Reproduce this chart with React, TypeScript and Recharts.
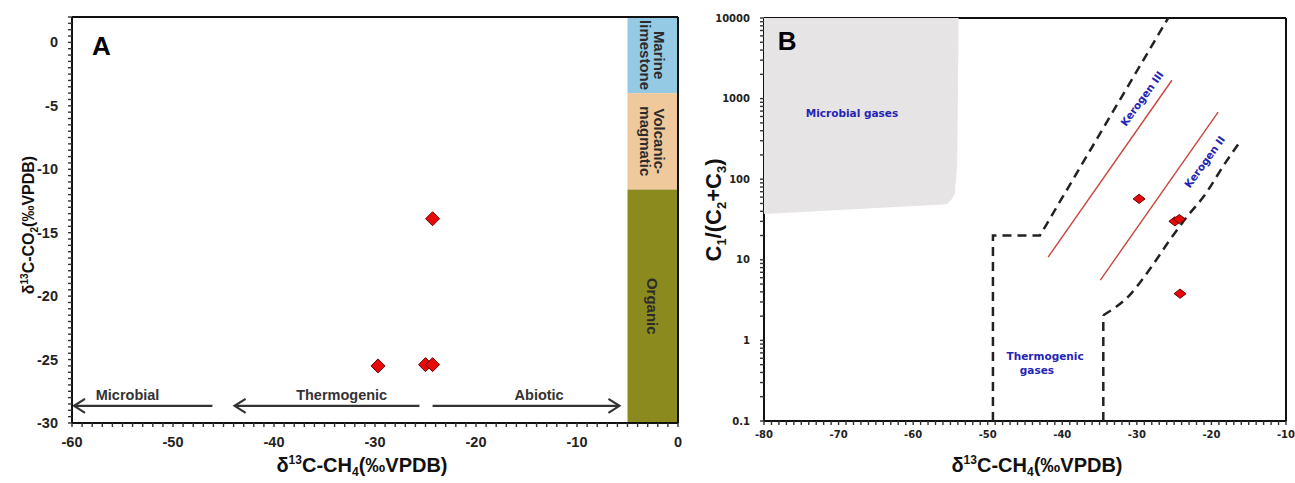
import React from "react";
import {
  ReferenceArea,
  ReferenceLine,
  Scatter,
  ScatterChart,
  XAxis,
  YAxis,
} from "recharts";

// ---------- panel A: d13C-CH4 vs d13C-CO2 ----------
const aPoints = [
  { x: -29.7, y: -25.5 },
  { x: -25.0, y: -25.4 },
  { x: -24.3, y: -25.4 },
  { x: -24.3, y: -13.9 },
];
const aXTicks = [-60, -50, -40, -30, -20, -10, 0];
const aYTicks = [-30, -25, -20, -15, -10, -5, 0];
const aBands = [
  { top: 2, bottom: -4, lines: ["Marine", "limestone"] },
  { top: -4, bottom: -11.6, lines: ["Volcanic-", "magmatic"] },
  { top: -11.6, bottom: -30, lines: ["Organic"] },
];
const aArrows = [
  { from: -46.1, to: -59.8, y: -28.65 },
  { from: -25.6, to: -43.9, y: -28.65 },
  { from: -24.3, to: -5.8, y: -28.65 },
];
const aLabels = [
  { x: -54.5, y: -27.75, text: "Microbial" },
  { x: -33.3, y: -27.75, text: "Thermogenic" },
  { x: -13.75, y: -27.75, text: "Abiotic" },
];
const aTag = [{ x: -57.1, y: -0.3, text: "A" }];

// ---------- panel B: d13C-CH4 vs C1/(C2+C3) ----------
const bPoints = [
  { x: -29.7, y: 57 },
  { x: -24.9, y: 30 },
  { x: -24.3, y: 32 },
  { x: -24.2, y: 3.8 },
];
const bXTicks = [-80, -70, -60, -50, -40, -30, -20, -10];
const bYTicks = [0.1, 1, 10, 100, 1000, 10000];
const bMicrobialZone = [
  { x: -80, y: 10000 },
  { x: -53.9, y: 10000 },
  { x: -54.1, y: 150 },
  { x: -54.4, y: 67 },
  { x: -54.8, y: 57 },
  { x: -55.5, y: 49 },
  { x: -80, y: 37 },
];
const bThermoLeft = [
  { x: -49.3, y: 0.1 },
  { x: -49.3, y: 20 },
  { x: -43, y: 20 },
  { x: -25.8, y: 10000 },
];
const bThermoRightWall = [
  { x: -34.5, y: 0.1 },
  { x: -34.5, y: 2.05 },
];
const bThermoRightCurve = [
  { x: -34.5, y: 2.05 },
  { x: -30.9, y: 3.7 },
  { x: -28.2, y: 7.8 },
  { x: -25.6, y: 17.5 },
  { x: -23.3, y: 34 },
  { x: -21.1, y: 60 },
  { x: -17.9, y: 172 },
  { x: -16.2, y: 288 },
];
const bKerogenLines = [
  { x1: -41.9, y1: 10.8, x2: -25.3, y2: 1690 },
  { x1: -34.9, y1: 5.6, x2: -19.1, y2: 678 },
];
const bLabels = [
  { x: -68.2, y: 656, text: "Microbial gases" },
  { x: -42.3, y: 0.63, text: "Thermogenic" },
  { x: -43.4, y: 0.43, text: "gases" },
  { x: -29.3, y: 1000, text: "Kerogen III" },
  { x: -20.9, y: 164, text: "Kerogen II" },
];
const bTag = [{ x: -76.9, y: 5190, text: "B" }];

const bandColors = ["#95cae4", "#efc89c", "#8b8a1f"];
const labelAngles: Record<string, number> = { "Kerogen III": -54, "Kerogen II": -54 };

const SANS = "'Liberation Sans', Arial, sans-serif";
const DEJAVU = "'DejaVu Sans', Verdana, sans-serif";

function steps(a: number, b: number, step: number) {
  const out: number[] = [];
  for (let v = a; v <= b + 1e-9; v += step) out.push(Math.round(v * 100) / 100);
  return out;
}

const aXAll = steps(-60, 0, 1);
const aYAll = steps(-30, 2, 0.5);
const bXAll = steps(-80, -10, 1);
const bYAll: number[] = [];
for (const d of [0.1, 1, 10, 100, 1000]) {
  for (let k = 1; k < 10; k++) bYAll.push(Number((d * k).toPrecision(3)));
}
bYAll.push(10000);

function XTick(props: any) {
  const { x, y, payload, majors, fontSize, family, gap } = props;
  const major = majors.includes(payload.value);
  return (
    <g>
      <line x1={x} y1={y} x2={x} y2={y + 4} stroke="#333" strokeWidth={1.4} />
      {major && (
        <text x={x} y={y + gap} dy="0.35em" textAnchor="middle" fontSize={fontSize}
          fontFamily={family} fontWeight="bold" fill="#222">
          {payload.value}
        </text>
      )}
    </g>
  );
}

function YTick(props: any) {
  const { x, y, payload, majors, fontSize, family, gap } = props;
  const major = majors.includes(payload.value);
  return (
    <g>
      <line x1={x} y1={y} x2={x - 4} y2={y} stroke="#333" strokeWidth={1.4} />
      {major && (
        <text x={x - gap} y={y} dy="0.35em" textAnchor="end" fontSize={fontSize}
          fontFamily={family} fontWeight="bold" fill="#222">
          {payload.value}
        </text>
      )}
    </g>
  );
}

function diamond(rx: number, ry: number) {
  return (p: any) => (
    <path
      d={`M${p.cx},${p.cy - ry}L${p.cx + rx},${p.cy}L${p.cx},${p.cy + ry}L${p.cx - rx},${p.cy}Z`}
      fill="#e60a0a"
      stroke="#6d0000"
      strokeWidth={1}
    />
  );
}

function textShape(size: number, color: string, family: string) {
  return (p: any) => {
    const t = p.payload?.text ?? p.text;
    const ang = labelAngles[t] ?? 0;
    return (
      <text x={p.cx} y={p.cy} dy="0.35em" textAnchor="middle" fontSize={size}
        fontFamily={family} fontWeight="bold" fill={color}
        transform={ang ? `rotate(${ang} ${p.cx} ${p.cy})` : undefined}>
        {t}
      </text>
    );
  };
}

const none = () => <g />;

function bandShape(lines: string[], color: string) {
  return (p: any) => {
    const cx = p.x + p.width / 2 - 1;
    const cy = p.y + p.height / 2;
    const lh = 14;
    return (
      <g>
        <rect x={p.x} y={p.y} width={p.width} height={p.height} fill={color} />
        <text transform={`rotate(90 ${cx} ${cy})`} x={cx} y={cy} textAnchor="middle"
          fontSize={15} fontFamily={SANS} fontWeight="bold" fill="#2b2b2b">
          {lines.map((l, i) => (
            <tspan key={l} x={cx} dy={i === 0 ? -((lines.length - 1) * lh) / 2 + 5 : lh}>
              {l}
            </tspan>
          ))}
        </text>
      </g>
    );
  };
}

function arrowShape(p: any) {
  const { x1, y1, x2, y2 } = p;
  const dir = x2 > x1 ? 1 : -1;
  return (
    <g stroke="#333" strokeWidth={2.2} fill="none">
      <line x1={x1} y1={y1} x2={x2} y2={y2} />
      <polyline points={`${x2 - dir * 11},${y2 - 7} ${x2},${y2} ${x2 - dir * 11},${y2 + 7}`} />
    </g>
  );
}

function PanelA() {
  return (
    <ScatterChart width={690} height={483} margin={{ top: 17, right: 12, bottom: 30, left: 0 }}>
      <XAxis type="number" dataKey="x" domain={[-60, 0]} ticks={aXAll} interval={0}
        tickSize={0} tickMargin={0} tickLine={false} height={30}
        axisLine={{ stroke: "#111", strokeWidth: 2 }}
        tick={(p: any) => <XTick {...p} majors={aXTicks} fontSize={14.5} family={SANS} gap={19} />} />
      <YAxis type="number" dataKey="y" domain={[-30, 2]} ticks={aYAll} interval={0}
        tickSize={0} tickMargin={0} tickLine={false} width={72} allowDataOverflow
        axisLine={{ stroke: "#111", strokeWidth: 2 }}
        tick={(p: any) => <YTick {...p} majors={aYTicks} fontSize={14.5} family={SANS} gap={14} />} />
      {aBands.map((b, i) => (
        <ReferenceArea key={i} x1={-5} x2={0} y1={b.bottom} y2={b.top}
          shape={bandShape(b.lines, bandColors[i])} />
      ))}
      <ReferenceLine y={2} stroke="#111" strokeWidth={2} />
      <ReferenceLine x={0} stroke="#111" strokeWidth={2} />
      {aArrows.map((a, i) => (
        <ReferenceLine key={i} segment={[{ x: a.from, y: a.y }, { x: a.to, y: a.y }]}
          shape={arrowShape} />
      ))}
      <Scatter data={aLabels} shape={textShape(14.5, "#333", SANS)} isAnimationActive={false} />
      <Scatter data={aTag} shape={textShape(26, "#000", SANS)} isAnimationActive={false} />
      <Scatter data={aPoints} shape={diamond(7, 7)} isAnimationActive={false} />
    </ScatterChart>
  );
}

function PanelB() {
  const dash = { stroke: "#222", strokeWidth: 2.5, strokeDasharray: "9 6" };
  return (
    <ScatterChart width={605} height={483} margin={{ top: 18, right: 9, bottom: 32, left: 0 }}>
      <XAxis type="number" dataKey="x" domain={[-80, -10]} ticks={bXAll} interval={0}
        tickSize={0} tickMargin={0} tickLine={false} height={30}
        axisLine={{ stroke: "#111", strokeWidth: 2 }}
        tick={(p: any) => <XTick {...p} majors={bXTicks} fontSize={10} family={DEJAVU} gap={13} />} />
      <YAxis type="number" dataKey="y" scale="log" domain={[0.1, 10000]} ticks={bYAll}
        interval={0} tickSize={0} tickMargin={0} tickLine={false} width={74} allowDataOverflow
        axisLine={{ stroke: "#111", strokeWidth: 2 }}
        tick={(p: any) => <YTick {...p} majors={bYTicks} fontSize={10} family={DEJAVU} gap={14} />} />
      <Scatter data={bMicrobialZone} line={{ stroke: "none", fill: "#e6e4e4" }}
        shape={none} isAnimationActive={false} />
      <ReferenceLine y={10000} stroke="#111" strokeWidth={2} />
      <ReferenceLine x={-10} stroke="#111" strokeWidth={2} />
      <Scatter data={bThermoLeft} line={dash} shape={none} isAnimationActive={false} />
      <Scatter data={bThermoRightWall} line={dash} shape={none} isAnimationActive={false} />
      <Scatter data={bThermoRightCurve} line={dash} lineJointType="monotoneX" shape={none}
        isAnimationActive={false} />
      {bKerogenLines.map((k, i) => (
        <ReferenceLine key={i} segment={[{ x: k.x1, y: k.y1 }, { x: k.x2, y: k.y2 }]}
          stroke="#c8463a" strokeWidth={1.4} />
      ))}
      <Scatter data={bLabels} shape={textShape(10.5, "#2525b5", DEJAVU)} isAnimationActive={false} />
      <Scatter data={bTag} shape={textShape(26, "#000", SANS)} isAnimationActive={false} />
      <Scatter data={bPoints} shape={diamond(6, 4.6)} isAnimationActive={false} />
    </ScatterChart>
  );
}

function Titles() {
  const common = { fontFamily: SANS, fontWeight: "bold" as const, fill: "#111" };
  return (
    <svg width={1295} height={483} style={{ position: "absolute", left: 0, top: 0, pointerEvents: "none" }}>
      <text x={28} y={225} transform="rotate(-90 28 225)" textAnchor="middle" dy="0.35em" fontSize={16} {...common}>
        δ<tspan dy={-6} fontSize={10}>13</tspan>
        <tspan dy={6}>C-CO</tspan>
        <tspan dy={4} fontSize={10}>2</tspan>
        <tspan dy={-4}>(‰VPDB)</tspan>
      </text>
      <text x={362} y={465} textAnchor="middle" dy="0.35em" fontSize={20} {...common}>
        δ<tspan dy={-8} fontSize={12}>13</tspan>
        <tspan dy={8}>C-CH</tspan>
        <tspan dy={4} fontSize={12}>4</tspan>
        <tspan dy={-4}>(‰VPDB)</tspan>
      </text>
      <text x={1037} y={465} textAnchor="middle" dy="0.35em" fontSize={20} {...common}>
        δ<tspan dy={-8} fontSize={12}>13</tspan>
        <tspan dy={8}>C-CH</tspan>
        <tspan dy={4} fontSize={12}>4</tspan>
        <tspan dy={-4}>(‰VPDB)</tspan>
      </text>
      <text x={713} y={210} transform="rotate(-90 713 210)" textAnchor="middle" dy="0.35em" fontSize={22} {...common}>
        C<tspan dy={5} fontSize={13}>1</tspan>
        <tspan dy={-5}>/(C</tspan>
        <tspan dy={5} fontSize={13}>2</tspan>
        <tspan dy={-5}>+C</tspan>
        <tspan dy={5} fontSize={13}>3</tspan>
        <tspan dy={-5}>)</tspan>
      </text>
    </svg>
  );
}

export default function App() {
  return (
    <div style={{ position: "absolute", left: 0, top: 0, width: 1295, height: 483, background: "#fff" }}>
      <div style={{ position: "absolute", left: 0, top: 0 }}>
        <PanelA />
      </div>
      <div style={{ position: "absolute", left: 690, top: 0 }}>
        <PanelB />
      </div>
      <Titles />
    </div>
  );
}
